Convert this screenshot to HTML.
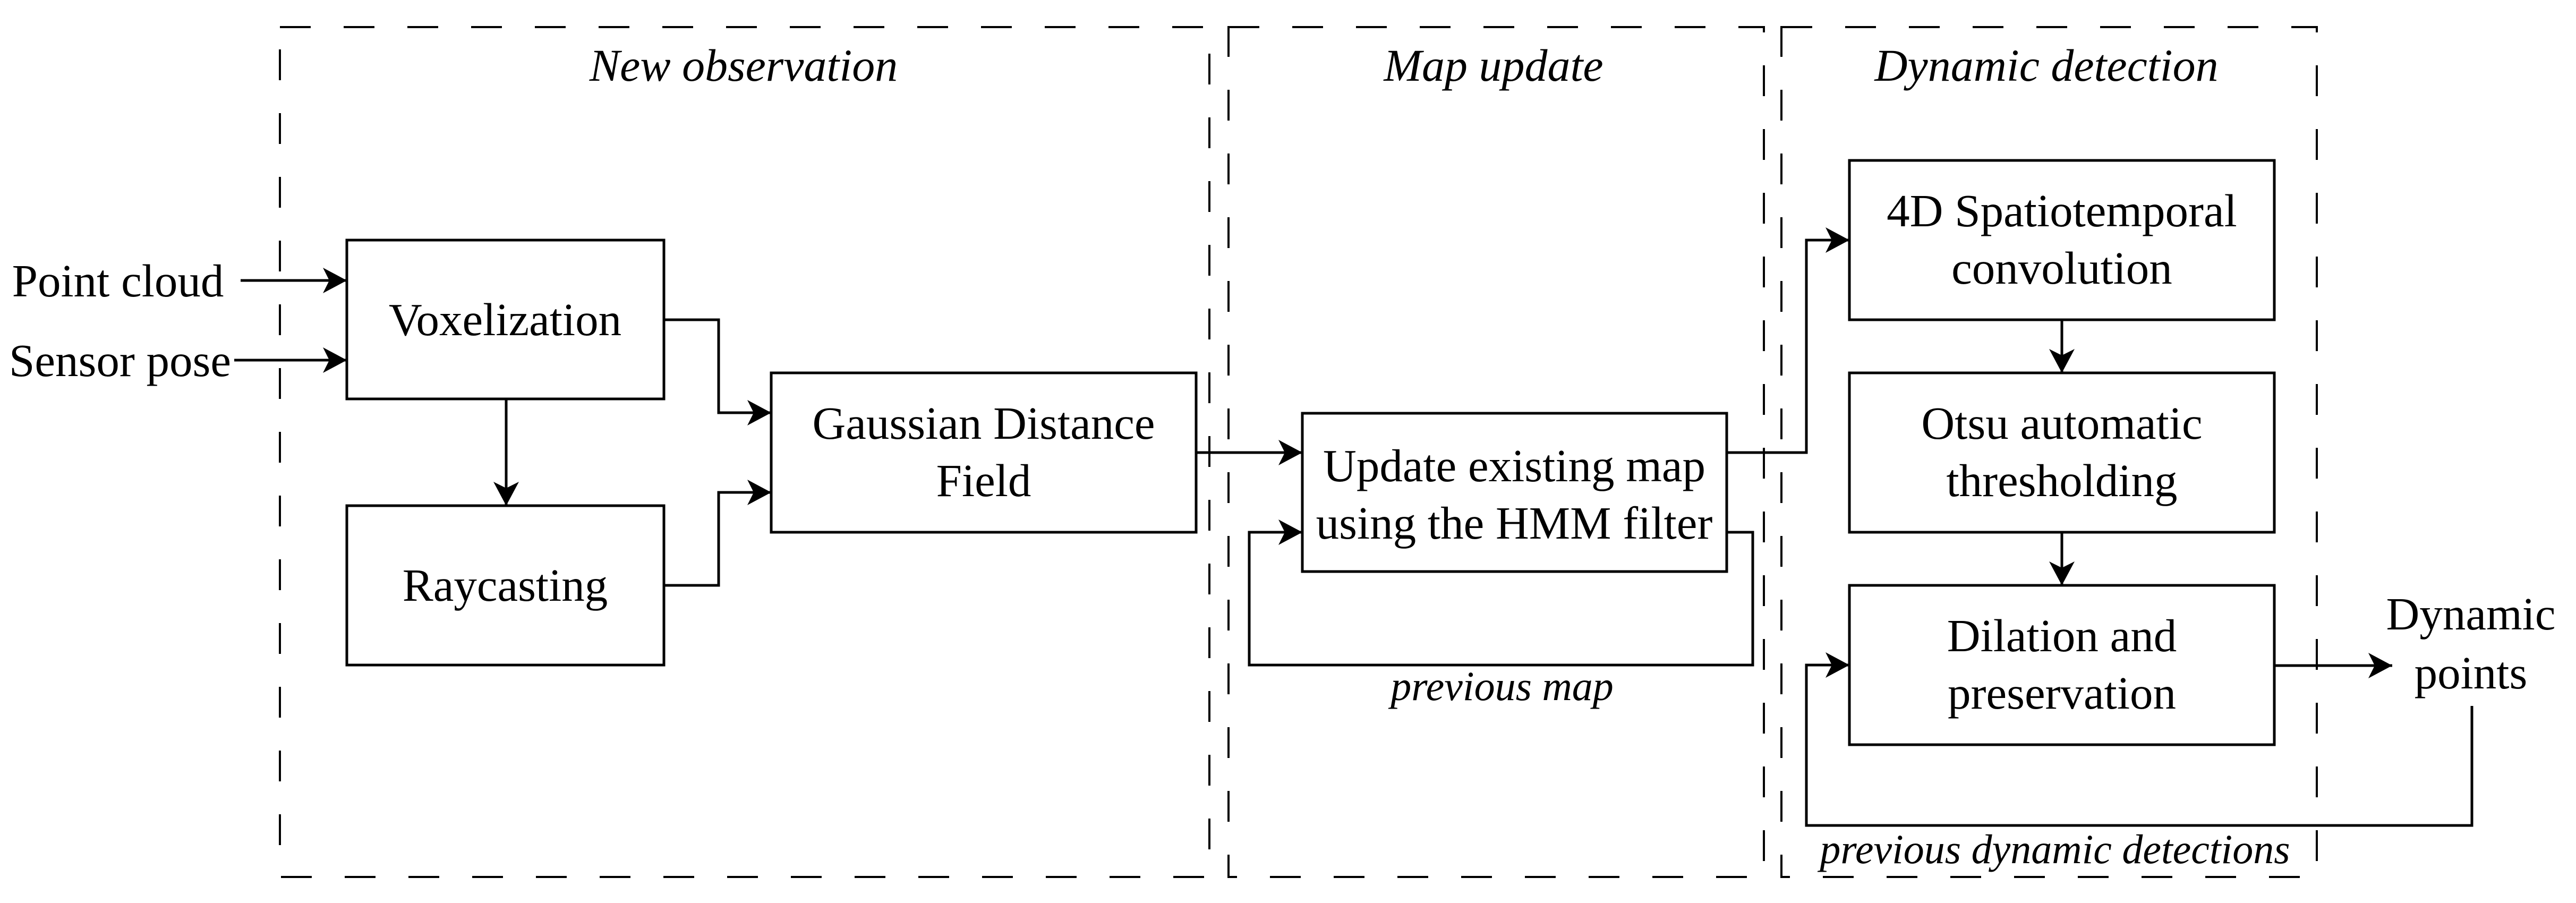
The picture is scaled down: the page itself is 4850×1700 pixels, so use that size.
<!DOCTYPE html>
<html><head><meta charset="utf-8"><style>html,body{margin:0;padding:0;background:#fff}svg{display:block}text{font-family:"Liberation Serif","Times New Roman",Tinos,"Nimbus Roman","DejaVu Serif","Noto Serif CJK SC",serif}</style></head>
<body>
<svg width="4850" height="1700" viewBox="0 0 4850 1700" xmlns="http://www.w3.org/2000/svg">
<defs>
<marker id="a" markerWidth="46" markerHeight="48" refX="45" refY="24" markerUnits="userSpaceOnUse" orient="auto">
<path d="M0,0 L45,24 L0,48 L12,24 Z" fill="#000"/>
</marker>
</defs>
<g fill="none" stroke="#000" stroke-width="4" stroke-dasharray="58 62">
<rect x="527" y="51" width="1750" height="1600"/>
<rect x="2313" y="51" width="1008" height="1600"/>
<rect x="3354" y="51" width="1008" height="1600"/>
</g>
<g fill="#fff" stroke="#000" stroke-width="5">
<rect x="653" y="452" width="597" height="299"/>
<rect x="653" y="952" width="597" height="300"/>
<rect x="1452" y="702" width="800" height="300"/>
<rect x="2452" y="778" width="799" height="298"/>
<rect x="3482" y="302" width="800" height="300"/>
<rect x="3482" y="702" width="800" height="300"/>
<rect x="3482" y="1102" width="800" height="300"/>
</g>
<g fill="none" stroke="#000" stroke-width="5">
<path d="M453,528 H653" marker-end="url(#a)"/>
<path d="M441,678 H653" marker-end="url(#a)"/>
<path d="M953,751 V952" marker-end="url(#a)"/>
<path d="M1250,602 H1353 V777 H1452" marker-end="url(#a)"/>
<path d="M1250,1102 H1353 V927 H1452" marker-end="url(#a)"/>
<path d="M2252,852 H2452" marker-end="url(#a)"/>
<path d="M3251,1002 H3300 V1252 H2352 V1002 H2452" marker-end="url(#a)"/>
<path d="M3251,852 H3401 V452 H3482" marker-end="url(#a)"/>
<path d="M3882,602 V702" marker-end="url(#a)"/>
<path d="M3882,1002 V1102" marker-end="url(#a)"/>
<path d="M4282,1253 H4504" marker-end="url(#a)"/>
<path d="M4654,1329 V1554 H3401 V1252 H3482" marker-end="url(#a)"/>
</g>
<g font-size="87" fill="#000" text-anchor="middle">
<text x="222" y="558">Point cloud</text>
<text x="226" y="708">Sensor pose</text>
<text x="951" y="631">Voxelization</text>
<text x="951" y="1131">Raycasting</text>
<text x="1852" y="826">Gaussian Distance</text>
<text x="1852" y="934">Field</text>
<text x="2851" y="906">Update existing map</text>
<text x="2851" y="1014">using the HMM filter</text>
<text x="3882" y="426">4D Spatiotemporal</text>
<text x="3882" y="534">convolution</text>
<text x="3882" y="826">Otsu automatic</text>
<text x="3882" y="934">thresholding</text>
<text x="3882" y="1226">Dilation and</text>
<text x="3882" y="1334">preservation</text>
<text x="4652" y="1185">Dynamic</text>
<text x="4652" y="1296">points</text>
</g>
<g font-style="italic" font-size="86" fill="#000" text-anchor="middle">
<text x="1400" y="152">New observation</text>
<text x="2812" y="152">Map update</text>
<text x="3853" y="152">Dynamic detection</text>
</g>
<g font-style="italic" font-size="78" fill="#000" text-anchor="middle">
<text x="2828" y="1318">previous map</text>
<text x="3869" y="1625">previous dynamic detections</text>
</g>
</svg>
</body></html>
